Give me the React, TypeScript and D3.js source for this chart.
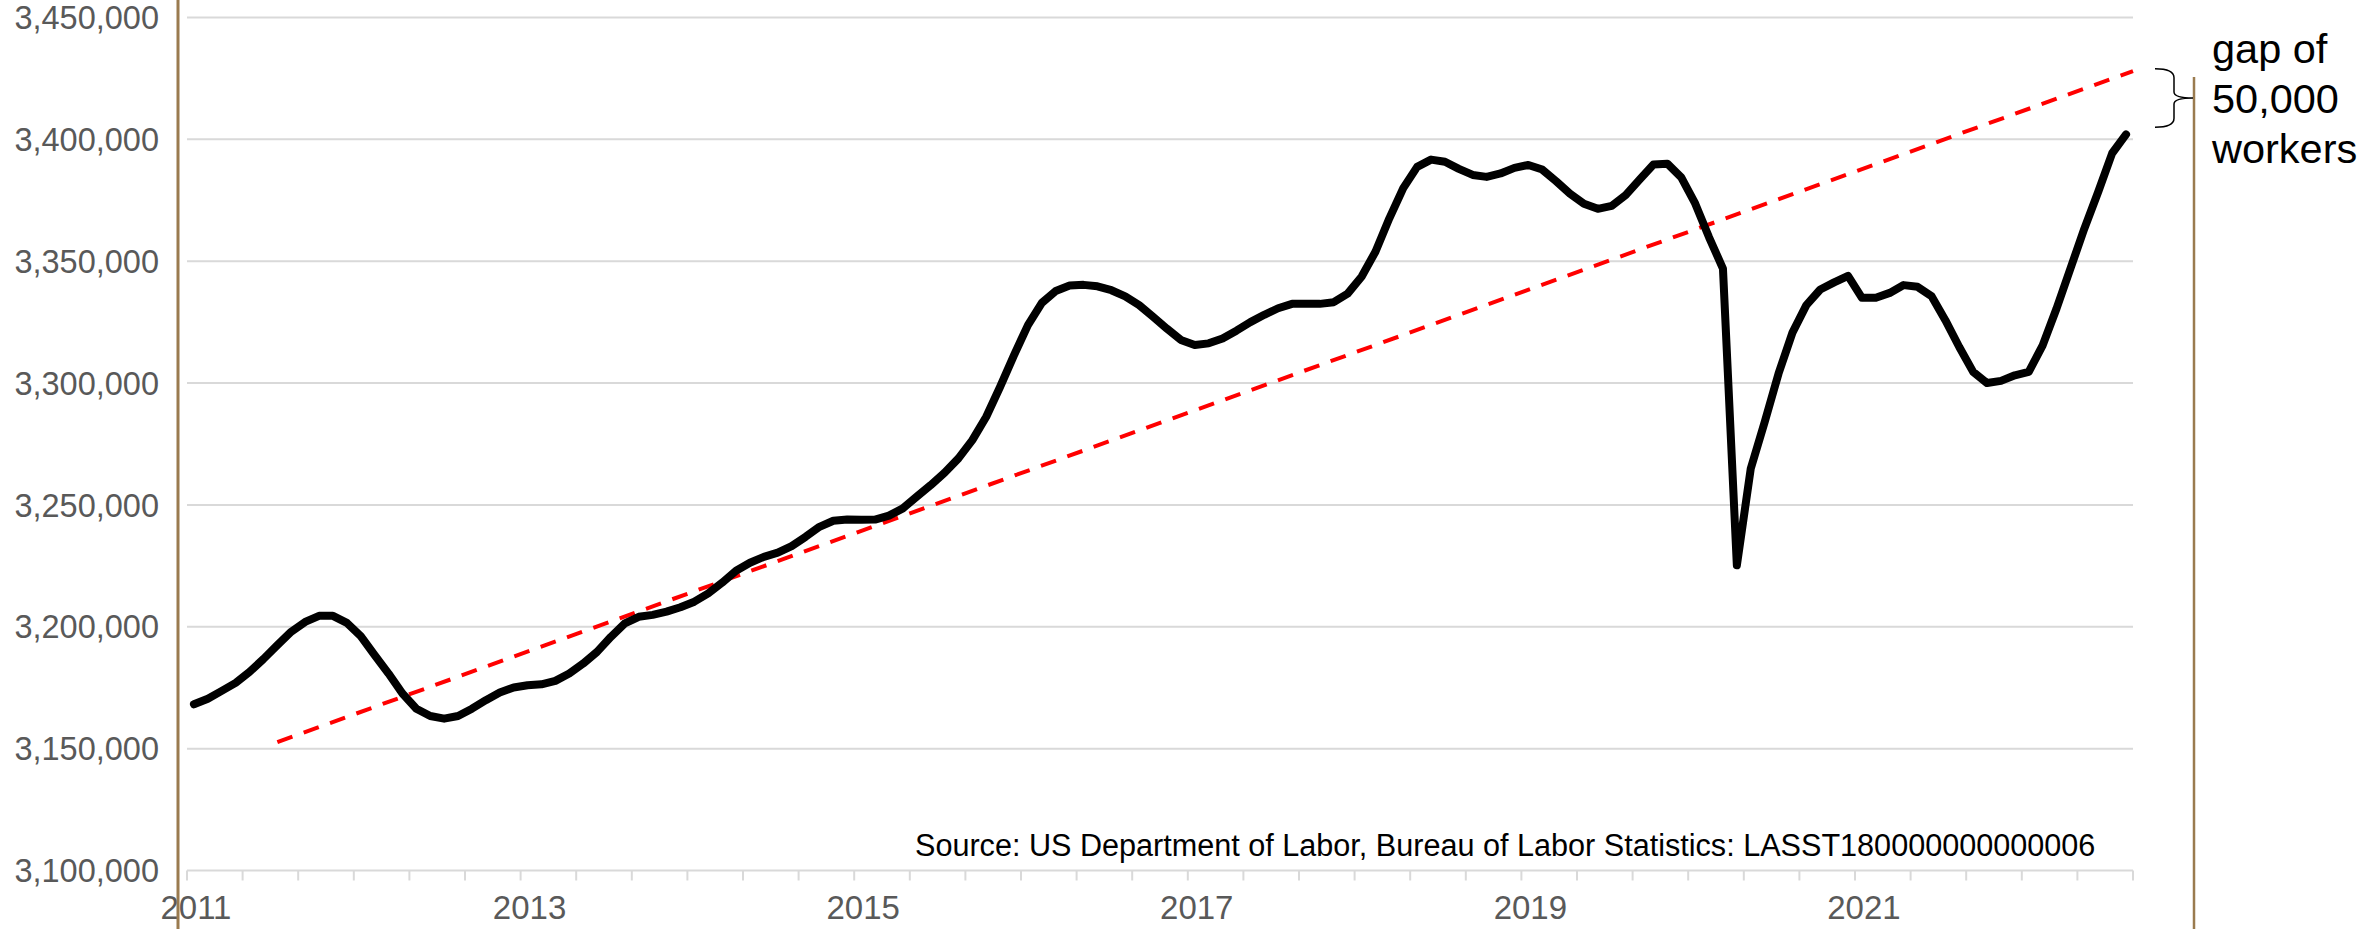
import React, {useEffect, useRef} from "react";
import * as d3 from "d3";

// monthly labor force, Jan 2011 .. Aug 2022
const startMonth = "2011-01";
const laborForce = [
	3168200, 3170500, 3173700, 3177000, 3181500, 3186800, 3192500, 3198000, 3202000, 3204500, 3204500, 3201600,
	3196200, 3188400, 3180800, 3172600, 3166400, 3163400, 3162300, 3163400, 3166400, 3169900, 3173000, 3175100,
	3176000, 3176400, 3177800, 3180800, 3184900, 3189700, 3195900, 3201400, 3204100, 3204900, 3206200, 3208000,
	3210300, 3213700, 3218100, 3223000, 3226300, 3228700, 3230400, 3233100, 3236900, 3241000, 3243500, 3244000,
	3243900, 3244000, 3245600, 3248600, 3253400, 3258100, 3263200, 3269100, 3276600, 3286200, 3298500, 3311500,
	3323800, 3332900, 3337800, 3340000, 3340300, 3339700, 3338100, 3335600, 3332000, 3327200, 3322300, 3317700,
	3315600, 3316300, 3318300, 3321500, 3325000, 3328000, 3330700, 3332500, 3332500, 3332500, 3333200, 3336700,
	3343600, 3353900, 3367600, 3380000, 3388700, 3391700, 3390800, 3387900, 3385400, 3384600, 3386000, 3388300,
	3389500, 3387600, 3382800, 3377700, 3373600, 3371500, 3372700, 3377100, 3383500, 3389700, 3390000, 3384400,
	3373700, 3359800, 3347000, 3225200, 3264900, 3284000, 3303900, 3320700, 3332000, 3338400, 3341300, 3344000,
	3335000, 3335000, 3337000, 3340200, 3339500, 3335700, 3325800, 3314800, 3304600, 3300000, 3300900, 3303200,
	3304600, 3315500, 3330600, 3347000, 3363400, 3378500, 3394300, 3402000,
];

// trend line end points (month index, value)
const trendStart = {index: 6, value: 3152700};
const trendEnd = {index: 139.5, value: 3428000};

const yTicks = [3100000, 3150000, 3200000, 3250000, 3300000, 3350000, 3400000, 3450000];
const yearLabels = ["2011", "2013", "2015", "2017", "2019", "2021"];
const gapLines = ["gap of", "50,000", "workers"];
const gapRange = [3429000, 3405000];
const sourceText = "Source: US Department of Labor, Bureau of Labor Statistics: LASST180000000000006";

const W = 2379;
const H = 929;
const FONT = "'Liberation Sans', Arial, sans-serif";

const App: React.FC = () => {
	const svgRef = useRef<SVGSVGElement>(null);

	useEffect(() => {
		const svg = d3.select(svgRef.current);
		svg.selectAll("*").remove();

		const start = d3.timeParse("%Y-%m")(startMonth) as Date;
		const months = d3.timeMonth.range(start, d3.timeMonth.offset(start, laborForce.length));
		const n = months.length;

		const x = d3.scaleLinear().domain([-0.5, n - 0.5]).range([187, 2133]);
		const y = d3.scaleLinear().domain([3100000, 3450000]).range([870.5, 17.5]);

		// gridlines
		svg.append("g")
			.selectAll("line")
			.data(yTicks)
			.enter()
			.append("line")
			.attr("x1", x(-0.5))
			.attr("x2", x(n - 0.5))
			.attr("y1", (d) => y(d))
			.attr("y2", (d) => y(d))
			.attr("stroke", "#d9d9d9")
			.attr("stroke-width", 2);

		// y labels
		svg.append("g")
			.selectAll("text")
			.data(yTicks)
			.enter()
			.append("text")
			.attr("x", 159)
			.attr("y", (d) => y(d))
			.attr("dy", "0.36em")
			.attr("text-anchor", "end")
			.style("font-family", FONT)
			.style("font-size", "32.5px")
			.style("fill", "#595959")
			.text((d) => d3.format(",")(d));

		// x tick marks every 4 months
		const tickIdx = d3.range(0, n + 1, 4).map((i) => i - 0.5);
		svg.append("g")
			.selectAll("line")
			.data(tickIdx)
			.enter()
			.append("line")
			.attr("x1", (d) => x(d))
			.attr("x2", (d) => x(d))
			.attr("y1", y(3100000))
			.attr("y2", y(3100000) + 10)
			.attr("stroke", "#d9d9d9")
			.attr("stroke-width", 2);

		// year labels
		svg.append("g")
			.selectAll("text")
			.data(yearLabels)
			.enter()
			.append("text")
			.attr("x", (d) => x(months.findIndex((m) => m.getFullYear() === +d)) + 2)
			.attr("y", 919)
			.attr("text-anchor", "middle")
			.style("font-family", FONT)
			.style("font-size", "33px")
			.style("fill", "#595959")
			.text((d) => d);

		// source
		svg.append("text")
			.attr("x", 915)
			.attr("y", 856)
			.style("font-family", FONT)
			.style("font-size", "30.6px")
			.style("fill", "#000")
			.text(sourceText);

		// trend line
		svg.append("line")
			.attr("x1", x(trendStart.index))
			.attr("y1", y(trendStart.value))
			.attr("x2", x(trendEnd.index))
			.attr("y2", y(trendEnd.value))
			.attr("stroke", "#ff0000")
			.attr("stroke-width", 4)
			.attr("stroke-dasharray", "16,12");

		// data line
		const line = d3
			.line<number>()
			.x((_, i) => x(i))
			.y((d) => y(d));

		svg.append("path")
			.datum(laborForce)
			.attr("fill", "none")
			.attr("stroke", "#000")
			.attr("stroke-width", 8)
			.attr("stroke-linejoin", "round")
			.attr("stroke-linecap", "round")
			.attr("d", line);

		// brown frame lines
		svg.append("line")
			.attr("x1", 178)
			.attr("x2", 178)
			.attr("y1", 0)
			.attr("y2", H)
			.attr("stroke", "#9a7b4f")
			.attr("stroke-width", 3);

		svg.append("line")
			.attr("x1", 2194)
			.attr("x2", 2194)
			.attr("y1", 77)
			.attr("y2", H)
			.attr("stroke", "#9a7b4f")
			.attr("stroke-width", 2.5);

		// brace for the gap
		const top = y(gapRange[0]);
		const bot = y(gapRange[1]);
		const mid = (top + bot) / 2;
		const bx0 = 2155;
		const bx1 = 2174;
		const bx2 = 2193;
		svg.append("path")
			.attr(
				"d",
				`M${bx0},${top} Q${bx1},${top} ${bx1},${top + 9} L${bx1},${mid - 6} Q${bx1},${mid} ${bx2},${mid} ` +
					`Q${bx1},${mid} ${bx1},${mid + 6} L${bx1},${bot - 9} Q${bx1},${bot} ${bx0},${bot}`
			)
			.attr("fill", "none")
			.attr("stroke", "#000")
			.attr("stroke-width", 1.5);

		svg.append("g")
			.selectAll("text")
			.data(gapLines)
			.enter()
			.append("text")
			.attr("x", 2212)
			.attr("y", (_, i) => 63 + i * 50)
			.style("font-family", FONT)
			.style("font-size", "41.5px")
			.style("fill", "#000")
			.text((d) => d);
	}, []);

	return (
		<div style={{position: "absolute", left: 0, top: 0}}>
			<svg ref={svgRef} width={W} height={H} style={{display: "block", background: "#fff"}} />
		</div>
	);
};

export default App;
